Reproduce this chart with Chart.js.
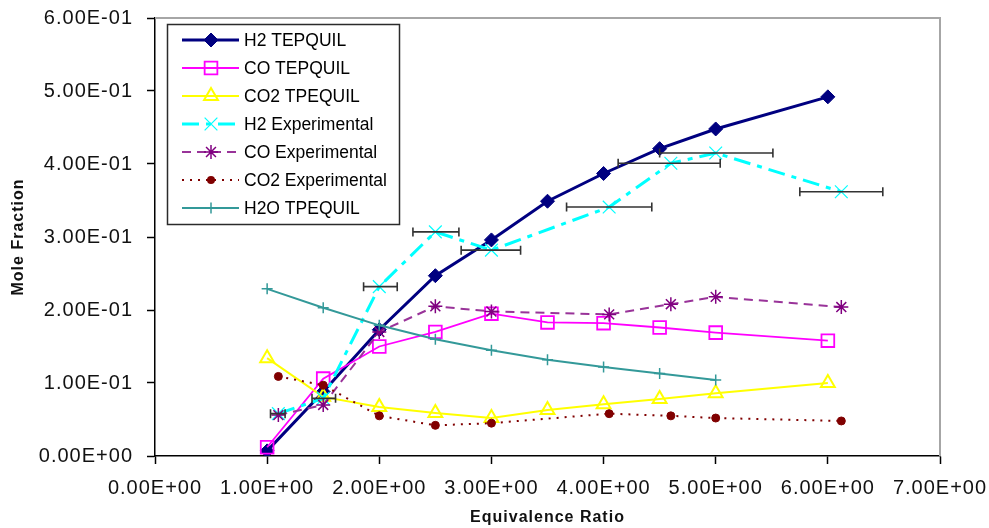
<!DOCTYPE html>
<html>
<head>
<meta charset="utf-8">
<title>Mole Fraction vs Equivalence Ratio</title>
<script src="https://cdn.jsdelivr.net/npm/chart.js@4/dist/chart.umd.min.js"></script>
<style>
  html, body { margin: 0; padding: 0; background: #fff; }
  canvas { display: block; }
</style>
</head>
<body>
<canvas id="chart" width="989" height="528"></canvas>
<script>
// Equilibrium model results (TEPQUIL)
const ratioModel = [1, 1.5, 2, 2.5, 3, 3.5, 4, 4.5, 5, 6];
const h2Model  = [0.007, 0.088, 0.173, 0.247, 0.296, 0.349, 0.387, 0.421, 0.448, 0.492];
const coModel  = [0.012, 0.106, 0.150, 0.170, 0.195, 0.183, 0.182, 0.176, 0.169, 0.158];
const co2Model = [0.134, 0.081, 0.067, 0.059, 0.052, 0.063, 0.071, 0.078, 0.086, 0.100];
const ratioH2O = [1, 1.5, 2, 2.5, 3, 3.5, 4, 4.5, 5];
const h2oModel = [0.229, 0.203, 0.179, 0.160, 0.145, 0.132, 0.122, 0.113, 0.104];

// Experimental measurements
const ratioExp = [1.1, 1.5, 2.0, 2.5, 3.0, 4.05, 4.6, 5.0, 6.12];
const h2Exp  = [0.058, 0.079, 0.232, 0.307, 0.282, 0.341, 0.401, 0.415, 0.362];
const coExp  = [0.056, 0.070, 0.170, 0.205, 0.198, 0.194, 0.208, 0.218, 0.204];
const co2Exp = [0.109, 0.097, 0.055, 0.042, 0.045, 0.058, 0.055, 0.052, 0.048];
// Uncertainty range of the equivalence ratio for each H2 measurement
const ratioErrLow  = [1.03, 1.40, 1.86, 2.30, 2.73, 3.67, 4.13, 4.50, 5.75];
const ratioErrHigh = [1.16, 1.61, 2.16, 2.71, 3.26, 4.43, 5.04, 5.51, 6.49];

// Axis ticks
const xTicks = [0, 1, 2, 3, 4, 5, 6, 7];
const yTicks = [0, 0.1, 0.2, 0.3, 0.4, 0.5, 0.6];

const seriesNames = ['H2 TEPQUIL', 'CO TEPQUIL', 'CO2 TPEQUIL', 'H2 Experimental',
                     'CO Experimental', 'CO2 Experimental', 'H2O TPEQUIL'];

const FONT = "'Liberation Sans', Arial, Helvetica, sans-serif";

function pts(xs, ys) { return xs.map((x, i) => ({ x: x, y: ys[i] })); }

function sci(v) {
  if (Math.abs(v) < 1e-12) return '0.00E+00';
  let e = Math.floor(Math.log10(Math.abs(v)) + 1e-9);
  let ms = (v / Math.pow(10, e)).toFixed(2);
  if (parseFloat(ms) >= 10) { e += 1; ms = (v / Math.pow(10, e)).toFixed(2); }
  const sign = e < 0 ? '-' : '+';
  const es = String(Math.abs(e)).padStart(2, '0');
  return ms + 'E' + sign + es;
}

const datasets = [
  { label: seriesNames[0], data: pts(ratioModel, h2Model),
    borderColor: '#000080', backgroundColor: '#000080', borderWidth: 3,
    pointStyle: 'rectRot', pointRadius: 7, pointBackgroundColor: '#000080',
    pointBorderColor: '#000080', pointBorderWidth: 1 },
  { label: seriesNames[1], data: pts(ratioModel, coModel),
    borderColor: '#FF00FF', backgroundColor: 'rgba(0,0,0,0)', borderWidth: 1.8,
    pointStyle: 'rect', pointRadius: 9, pointBackgroundColor: 'rgba(0,0,0,0)',
    pointBorderColor: '#FF00FF', pointBorderWidth: 1.8 },
  { label: seriesNames[2], data: pts(ratioModel, co2Model),
    borderColor: '#FFFF00', backgroundColor: 'rgba(0,0,0,0)', borderWidth: 2,
    pointStyle: 'triangle', pointRadius: 8, pointBackgroundColor: 'rgba(0,0,0,0)',
    pointBorderColor: '#FFFF00', pointBorderWidth: 2 },
  { label: seriesNames[3], data: pts(ratioExp, h2Exp),
    borderColor: '#00FFFF', backgroundColor: '#00FFFF', borderWidth: 3,
    borderDash: [17, 7, 5, 7],
    pointStyle: 'crossRot', pointRadius: 9, pointBackgroundColor: '#00FFFF',
    pointBorderColor: '#00FFFF', pointBorderWidth: 1.2 },
  { label: seriesNames[4], data: pts(ratioExp, coExp),
    borderColor: '#993399', backgroundColor: '#800080', borderWidth: 2,
    borderDash: [9, 6],
    pointStyle: 'star', pointRadius: 7, pointBackgroundColor: '#800080',
    pointBorderColor: '#800080', pointBorderWidth: 1.5 },
  { label: seriesNames[5], data: pts(ratioExp, co2Exp),
    borderColor: '#800000', backgroundColor: '#800000', borderWidth: 2,
    borderDash: [2, 6],
    pointStyle: 'circle', pointRadius: 4, pointBackgroundColor: '#800000',
    pointBorderColor: '#800000', pointBorderWidth: 1 },
  { label: seriesNames[6], data: pts(ratioH2O, h2oModel),
    borderColor: '#339999', backgroundColor: '#339999', borderWidth: 2,
    pointStyle: 'cross', pointRadius: 5.5, pointBackgroundColor: '#339999',
    pointBorderColor: '#339999', pointBorderWidth: 1.5 }
];
// later series are painted over earlier ones
datasets.forEach((d, i) => { d.order = -i; d.tension = 0; d.fill = false; d.showLine = true; });

// Slightly spaced lettering for the axis text
const textSpacing = {
  id: 'textSpacing',
  beforeLayout(chart) { chart.ctx.letterSpacing = '1px'; },
  beforeDraw(chart) { chart.ctx.letterSpacing = '1px'; }
};

// Gray frame on the top and right sides of the plot area
const plotFrame = {
  id: 'plotFrame',
  beforeDatasetsDraw(chart) {
    const { ctx, chartArea: a } = chart;
    ctx.save();
    ctx.strokeStyle = '#a6a6a6';
    ctx.lineWidth = 2;
    ctx.beginPath();
    ctx.moveTo(a.left, a.top);
    ctx.lineTo(a.right, a.top);
    ctx.lineTo(a.right, a.bottom);
    ctx.stroke();
    ctx.restore();
  }
};

// Horizontal error bars on the H2 measurements
const xErrorBars = {
  id: 'xErrorBars',
  afterDatasetsDraw(chart) {
    const { ctx, scales: { x, y } } = chart;
    ctx.save();
    ctx.strokeStyle = '#333333';
    ctx.lineWidth = 1.6;
    ctx.setLineDash([]);
    for (let i = 0; i < ratioExp.length; i++) {
      const py = y.getPixelForValue(h2Exp[i]);
      const x0 = x.getPixelForValue(ratioErrLow[i]);
      const x1 = x.getPixelForValue(ratioErrHigh[i]);
      ctx.beginPath();
      ctx.moveTo(x0, py); ctx.lineTo(x1, py);
      ctx.moveTo(x0, py - 4.5); ctx.lineTo(x0, py + 4.5);
      ctx.moveTo(x1, py - 4.5); ctx.lineTo(x1, py + 4.5);
      ctx.stroke();
    }
    ctx.restore();
  }
};

function marker(ctx, style, r, x, y) {
  ctx.beginPath();
  switch (style) {
    case 'rectRot':
      ctx.moveTo(x - r, y); ctx.lineTo(x, y - r); ctx.lineTo(x + r, y); ctx.lineTo(x, y + r);
      ctx.closePath(); ctx.fill(); ctx.stroke(); break;
    case 'rect': {
      const s = r * Math.SQRT1_2;
      ctx.rect(x - s, y - s, 2 * s, 2 * s); ctx.stroke(); break;
    }
    case 'triangle':
      ctx.moveTo(x, y - r);
      ctx.lineTo(x + r * Math.sin(2 * Math.PI / 3), y - r * Math.cos(2 * Math.PI / 3));
      ctx.lineTo(x + r * Math.sin(4 * Math.PI / 3), y - r * Math.cos(4 * Math.PI / 3));
      ctx.closePath(); ctx.stroke(); break;
    case 'crossRot': {
      const s = r * Math.SQRT1_2;
      ctx.moveTo(x - s, y - s); ctx.lineTo(x + s, y + s);
      ctx.moveTo(x - s, y + s); ctx.lineTo(x + s, y - s);
      ctx.stroke(); break;
    }
    case 'star': {
      const s = r * Math.SQRT1_2;
      ctx.moveTo(x, y - r); ctx.lineTo(x, y + r);
      ctx.moveTo(x - r, y); ctx.lineTo(x + r, y);
      ctx.moveTo(x - s, y - s); ctx.lineTo(x + s, y + s);
      ctx.moveTo(x - s, y + s); ctx.lineTo(x + s, y - s);
      ctx.stroke(); break;
    }
    case 'circle':
      ctx.arc(x, y, r, 0, Math.PI * 2); ctx.fill(); break;
    case 'cross':
      ctx.moveTo(x, y - r); ctx.lineTo(x, y + r);
      ctx.moveTo(x - r, y); ctx.lineTo(x + r, y);
      ctx.stroke(); break;
  }
}

// Boxed legend inside the plot, line sample with its marker
const boxLegend = {
  id: 'boxLegend',
  afterDraw(chart) {
    const { ctx } = chart;
    const L = 167.5, T = 24.5, W = 232, H = 200;
    ctx.save();
    ctx.letterSpacing = '0px';
    ctx.fillStyle = '#ffffff';
    ctx.fillRect(L, T, W, H);
    ctx.strokeStyle = '#2b2b2b';
    ctx.lineWidth = 1.5;
    ctx.strokeRect(L, T, W, H);
    chart.data.datasets.forEach((ds, i) => {
      const yy = 40 + i * 28;
      ctx.strokeStyle = ds.borderColor;
      ctx.lineWidth = ds.borderWidth;
      ctx.setLineDash(ds.borderDash || []);
      ctx.beginPath();
      ctx.moveTo(182, yy); ctx.lineTo(239, yy);
      ctx.stroke();
      ctx.setLineDash([]);
      ctx.fillStyle = ds.pointBackgroundColor;
      ctx.strokeStyle = ds.pointBorderColor;
      ctx.lineWidth = ds.pointBorderWidth;
      marker(ctx, ds.pointStyle, ds.pointRadius, 211, yy);
      ctx.fillStyle = '#000000';
      ctx.font = '17.5px ' + FONT;
      ctx.textBaseline = 'middle';
      ctx.textAlign = 'left';
      ctx.fillText(ds.label, 244, yy + 1);
    });
    ctx.restore();
  }
};

new Chart(document.getElementById('chart'), {
  type: 'scatter',
  data: { datasets: datasets },
  plugins: [textSpacing, plotFrame, xErrorBars, boxLegend],
  options: {
    responsive: false,
    animation: false,
    devicePixelRatio: 1,
    layout: { padding: { left: 0, right: 49, top: 18, bottom: 0 } },
    plugins: { legend: { display: false }, tooltip: { enabled: false } },
    scales: {
      x: {
        type: 'linear',
        min: xTicks[0], max: xTicks[xTicks.length - 1],
        afterBuildTicks(s) { s.ticks = xTicks.map(v => ({ value: v })); },
        afterFit(s) { s.height = 72; s.paddingLeft = 0; s.paddingRight = 0; },
        border: { display: true, color: '#000000', width: 1.5 },
        grid: { drawOnChartArea: false, drawTicks: true, tickLength: 8, tickColor: '#000000', tickWidth: 1.5 },
        ticks: {
          padding: 12, color: '#111111', maxRotation: 0, autoSkip: false,
          font: { family: FONT, size: 20 },
          callback: v => sci(v)
        },
        title: {
          display: true, text: 'Equivalence Ratio', color: '#111111',
          font: { family: FONT, size: 16, weight: 'bold' },
          padding: { top: 0, bottom: 1 }
        }
      },
      y: {
        type: 'linear',
        min: yTicks[0], max: yTicks[yTicks.length - 1],
        afterBuildTicks(s) { s.ticks = yTicks.map(v => ({ value: v })); },
        afterFit(s) { s.width = 155; s.paddingTop = 0; s.paddingBottom = 0; },
        border: { display: true, color: '#000000', width: 1.5 },
        grid: { drawOnChartArea: false, drawTicks: true, tickLength: 8, tickColor: '#000000', tickWidth: 1.5 },
        ticks: {
          padding: 14, color: '#111111', autoSkip: false,
          font: { family: FONT, size: 20 },
          callback: v => sci(v)
        },
        title: {
          display: true, text: 'Mole Fraction', color: '#111111',
          font: { family: FONT, size: 16, weight: 'bold' },
          padding: { top: 9, bottom: 0 }
        }
      }
    }
  }
});
</script>
</body>
</html>
